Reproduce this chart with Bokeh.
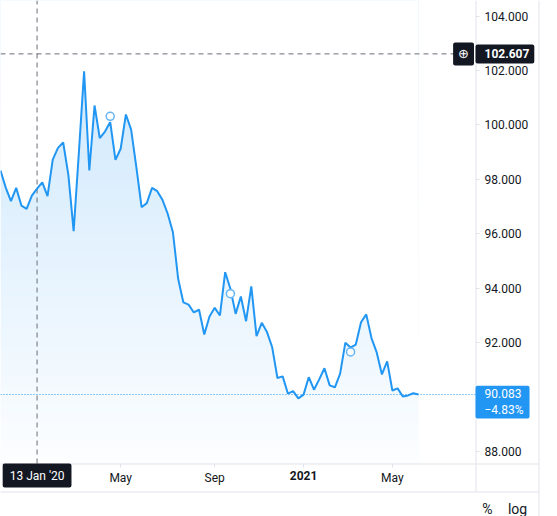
import numpy as np
import pandas as pd
from bokeh.plotting import figure
from bokeh.models import (Range1d, FixedTicker, LinearAxis, DatetimeAxis,
                          Label, NumeralTickFormatter)
from bokeh.embed import file_html
from bokeh.resources import INLINE

# ---------------- data ----------------
start_date = "2019-11-25"          # first weekly bar shown
prices = [98.32, 97.69, 97.19, 97.68, 97.03, 96.91, 97.40, 97.65, 97.88, 97.38,
          98.72, 99.15, 99.35, 98.14, 96.09, 98.98, 101.97, 98.32, 100.71, 99.51,
          99.75, 100.10, 98.71, 99.12, 100.38, 99.82, 98.44, 96.97, 97.12, 97.68,
          97.56, 97.24, 96.73, 96.05, 94.34, 93.47, 93.39, 93.10, 93.20, 92.29,
          92.95, 93.27, 92.99, 94.58, 93.97, 93.05, 93.69, 92.78, 94.06, 92.23,
          92.72, 92.38, 91.82, 90.69, 90.75, 90.12, 90.21, 89.94, 90.08, 90.72,
          90.26, 90.64, 91.05, 90.42, 90.35, 90.85, 91.99, 91.81, 91.92, 92.74,
          93.03, 92.16, 91.63, 90.82, 91.30, 90.23, 90.31, 90.01, 90.05, 90.13,
          90.083]
event_dates = ["2020-04-20", "2020-09-28", "2021-03-08"]
event_values = [100.31, 93.79, 91.65]

y_ticks = [88, 92, 94, 96, 98, 100, 102, 104]
x_tick_dates = ["2020-05-04", "2020-09-07", "2021-01-04", "2021-05-03"]
x_tick_labels = ["May", "Sep", "2021", "May"]

cross_date = "2020-01-13"
cross_date_label = "13 Jan '20"
cross_price = 102.607
last_price = 90.083
last_change = "\u22124.83%"

dates = pd.date_range(start_date, periods=len(prices), freq="7D")


def ms(d):
    return pd.Timestamp(d).value // 10**6


# ---------------- layout calibration (canvas pixels) ----------------
WEEK = 7 * 24 * 3600 * 1000
t0 = ms(start_date)
BAR_PX = 5.225          # px per weekly bar
Y_PX = 27.2             # px per price unit
Y_REF, Y_REF_PX = 104.0, 15.5
W, H = 557, 516
PANE_R, PANE_B, TIME_B, SCALE_R = 475, 463, 491, 538


def xpx(px):
    return t0 + px / BAR_PX * WEEK


def ypx(py):
    return Y_REF - (py - Y_REF_PX) / Y_PX


x_start, x_end = xpx(0), xpx(W)
y_start, y_end = ypx(H), ypx(0)
pane_bottom = ypx(PANE_B)

BLUE = "#2196f3"
BLUE_RGB = (33, 150, 243)
INK = "#131722"
EDGE = "#e0e3eb"
CROSS = "#6a6d78"
FONT = "Roboto"

p = figure(width=W, height=H,
           x_axis_type=None, y_axis_type=None,
           x_range=Range1d(x_start, x_end), y_range=Range1d(y_start, y_end),
           toolbar_location=None, output_backend="svg",
           min_border_left=0, min_border_top=0,
           min_border_right=0, min_border_bottom=0)
p.outline_line_color = None
p.background_fill_color = "white"
p.border_fill_color = "white"

# ---- area fill: vertical gradient image, masked above the line ----
def fill_alpha(v):
    return min(0.25, max(0.012, 0.014 + 0.01376 * (v - 87.66)))


rows = PANE_B
grad = np.zeros((rows, 2), dtype=np.uint32)
rgba = grad.view(dtype=np.uint8).reshape((rows, 2, 4))
for i in range(rows):
    a = fill_alpha(ypx(PANE_B - i - 0.5))
    for c in range(3):
        rgba[i, :, c] = int(round(255 - a * (255 - BLUE_RGB[c])))
    rgba[i, :, 3] = 255
x_last = ms(dates[-1])
p.image_rgba(image=[grad], x=x_start, y=pane_bottom,
             dw=x_last - x_start, dh=y_end - pane_bottom)
p.varea(x=dates, y1=prices, y2=y_end, fill_color="white", fill_alpha=1.0)

# pane / scale borders
p.segment(x0=[x_start, x_start, xpx(PANE_R + 0.5), xpx(SCALE_R + 0.5)],
          x1=[xpx(SCALE_R + 0.5), xpx(SCALE_R + 0.5), xpx(PANE_R + 0.5), xpx(SCALE_R + 0.5)],
          y0=[ypx(PANE_B + 0.5), ypx(TIME_B + 0.5), ypx(TIME_B + 0.5), y_start],
          y1=[ypx(PANE_B + 0.5), ypx(TIME_B + 0.5), y_end, y_end],
          line_color=EDGE, line_width=1)

# guide lines
p.segment(x0=[x_start], x1=[xpx(PANE_R)], y0=[last_price], y1=[last_price],
          line_color=BLUE, line_dash="1 2", line_width=1)
p.segment(x0=[x_start], x1=[xpx(PANE_R)], y0=[cross_price], y1=[cross_price],
          line_color=CROSS, line_dash="5 4", line_width=1)
p.segment(x0=[ms(cross_date)], x1=[ms(cross_date)], y0=[pane_bottom], y1=[y_end],
          line_color=CROSS, line_dash="5 4", line_width=1)

p.line(dates, prices, line_color=BLUE, line_width=2)
p.scatter(pd.to_datetime(event_dates), event_values, marker="circle", size=8,
          fill_color="white", line_color="#64b5f6", line_width=1.5)


def style_axis(ax):
    ax.axis_line_color = None
    ax.major_tick_line_color = EDGE
    ax.major_tick_in = 0
    ax.major_tick_out = 4
    ax.minor_tick_in = 0
    ax.minor_tick_out = 0
    ax.major_label_text_font = FONT
    ax.major_label_text_font_size = "12px"
    ax.major_label_text_color = INK


# time axis (months normal, years bold), drawn along the bottom of the pane
for is_year in (False, True):
    sel = [(d, lab) for d, lab in zip(x_tick_dates, x_tick_labels) if lab.isdigit() == is_year]
    xa = DatetimeAxis(ticker=FixedTicker(ticks=[ms(d) for d, _ in sel]),
                      major_label_overrides={ms(d): lab for d, lab in sel},
                      fixed_location=pane_bottom)
    style_axis(xa)
    xa.major_label_standoff = 3
    if is_year:
        xa.major_label_text_font_style = "bold"
    p.add_layout(xa, "below")

# price axis, drawn along the right edge of the pane
ya = LinearAxis(ticker=FixedTicker(ticks=y_ticks),
                formatter=NumeralTickFormatter(format="0.000"),
                fixed_location=xpx(PANE_R))
style_axis(ya)
ya.major_label_standoff = 5
p.add_layout(ya, "right")

# price / date tags
p.add_layout(Label(x=xpx(PANE_R), y=cross_price, text=f"{cross_price:.3f}",
                   text_align="left", text_baseline="middle", text_color="white",
                   text_font=FONT, text_font_size="12px", text_font_style="bold",
                   background_fill_color=INK, border_radius=2,
                   padding=dict(left=9, right=5, top=5, bottom=5)))
p.add_layout(Label(x=xpx(PANE_R), x_offset=-1.5, y=cross_price, text="\u2295",
                   text_align="right", text_baseline="middle", text_color="white",
                   text_font="DejaVu Sans", text_font_size="13px",
                   background_fill_color=INK, border_radius=2,
                   padding=dict(left=5, right=5, top=4, bottom=4)))
p.add_layout(Label(x=xpx(PANE_R), y=last_price, y_offset=-7.5,
                   text=f"{last_price:.3f}\n{last_change}",
                   text_align="left", text_baseline="middle", text_color="white",
                   text_font=FONT, text_font_size="12px",
                   background_fill_color=BLUE, border_radius=2,
                   padding=dict(left=9, right=6, top=1, bottom=1)))
p.add_layout(Label(x=ms(cross_date), y=pane_bottom, text=cross_date_label,
                   text_align="center", text_baseline="top", text_color="white",
                   text_font=FONT, text_font_size="12px",
                   background_fill_color=INK, border_radius=2,
                   padding=dict(left=7, right=7, top=5, bottom=5)))
p.add_layout(Label(x=xpx(487), y=ypx(508.5), text="%",
                   text_align="center", text_baseline="middle", text_color=INK,
                   text_font=FONT, text_font_size="14px"))
p.add_layout(Label(x=xpx(517), y=ypx(508.5), text="log",
                   text_align="center", text_baseline="middle", text_color=INK,
                   text_font=FONT, text_font_size="14px"))

open("out.html", "w").write(file_html(p, INLINE))
